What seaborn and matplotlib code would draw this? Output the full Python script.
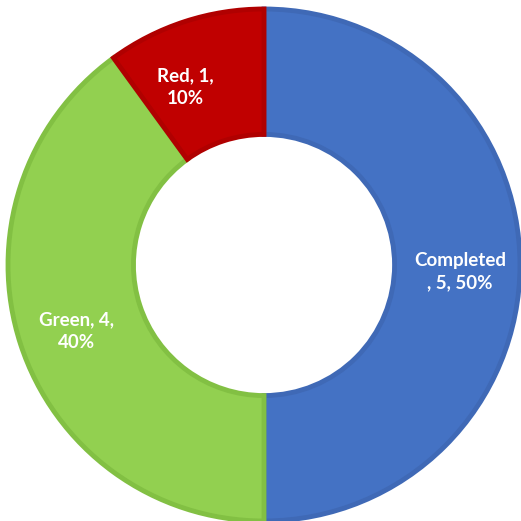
#!/usr/bin/env python3

import seaborn as sns
from matplotlib import pyplot as plt

# data
categories = ['Completed', 'Green', 'Red']
values = [5, 4, 1]
fill_colors = ['#4472C4', '#92D050', '#C00000']
edge_colors = ['#3F69B6', '#82C043', '#B00000']


def plot(out_file='out.png'):
    sns.set_theme(style='white')
    plt.rcParams['font.family'] = ['Lato', 'DejaVu Sans']

    f = plt.figure(figsize=(5.21, 5.21), dpi=100)
    ax = f.add_axes([8 / 521, 0.0, 512 / 521, 512 / 521])

    total = sum(values)
    labels = []
    for c, v in zip(categories, values):
        pct = '{:.0f}%'.format(v / total * 100)
        if c == 'Completed':
            labels.append('{}\n, {}, {}'.format(c, v, pct))
        else:
            labels.append('{}, {},\n{}'.format(c, v, pct))

    wedges, texts = ax.pie(values, labels=labels, colors=fill_colors,
                           startangle=90, counterclock=False,
                           radius=1.0, labeldistance=0.74,
                           wedgeprops={'width': 0.49, 'linewidth': 3.5},
                           textprops={'color': 'white', 'fontsize': 13.5,
                                      'fontweight': 'bold',
                                      'linespacing': 1.4})

    for w, ec in zip(wedges, edge_colors):
        w.set_edgecolor(ec)
        w.set_joinstyle('miter')

    for t in texts:
        t.set_horizontalalignment('center')
        t.set_verticalalignment('center')

    # nudge labels the way the source chart wraps them
    x, y = texts[0].get_position()
    texts[0].set_position((x + 0.025, y - 0.025))
    x, y = texts[1].get_position()
    texts[1].set_position((x - 0.03, y - 0.03))
    x, y = texts[2].get_position()
    texts[2].set_position((x - 0.08, y - 0.01))

    ax.set_xlim(-1, 1)
    ax.set_ylim(-1, 1)
    ax.set_aspect('equal')
    ax.axis('off')

    f.savefig(out_file, dpi=100)


if __name__ == '__main__':
    plot()
